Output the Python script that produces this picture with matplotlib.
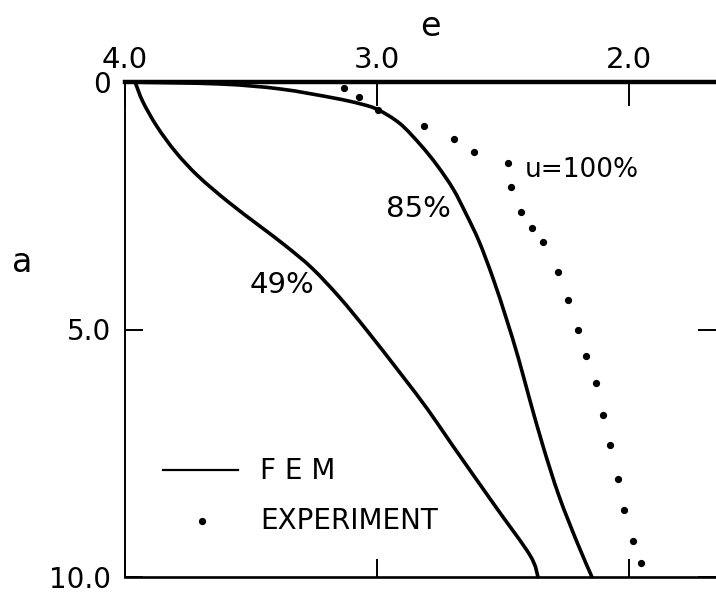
import matplotlib
matplotlib.use("Agg")
import matplotlib.pyplot as plt
from matplotlib.path import Path
from matplotlib.patches import PathPatch

# FEM curve, degree of consolidation 49 %
e_fem49 = [3.960, 3.929, 3.873, 3.798, 3.710, 3.591, 3.468, 3.365, 3.258, 3.147,
           3.040, 2.905, 2.798, 2.706, 2.532, 2.393, 2.361]
a_fem49 = [0.00, 0.40, 0.90, 1.42, 1.90, 2.42, 2.90, 3.30, 3.76, 4.36,
           5.02, 5.90, 6.62, 7.30, 8.56, 9.56, 10.00]

# FEM curve, degree of consolidation 85 %
e_fem85 = [4.000, 3.623, 3.385, 3.175, 3.067, 2.996, 2.909, 2.829, 2.762, 2.698,
           2.647, 2.595, 2.540, 2.488, 2.440, 2.397, 2.341, 2.278, 2.206, 2.147]
a_fem85 = [0.00, 0.04, 0.14, 0.32, 0.44, 0.56, 0.84, 1.26, 1.68, 2.16,
           2.66, 3.22, 3.96, 4.76, 5.56, 6.36, 7.36, 8.36, 9.30, 10.00]

# Experimental points, u = 100 %
e_exp = [3.131, 3.071, 2.996, 2.813, 2.694, 2.615, 2.480, 2.468, 2.429, 2.385,
         2.341, 2.282, 2.242, 2.202, 2.171, 2.131, 2.103, 2.075, 2.044, 2.020,
         1.984, 1.952]
a_exp = [0.12, 0.30, 0.56, 0.88, 1.16, 1.42, 1.64, 2.12, 2.62, 2.94,
         3.24, 3.84, 4.40, 5.00, 5.54, 6.08, 6.72, 7.34, 8.02, 8.64,
         9.28, 9.72]

e_ticks = [4.0, 3.0, 2.0]
e_ticklabels = ["4.0", "3.0", "2.0"]
a_ticks = [0.0, 5.0, 10.0]
a_ticklabels = ["0", "5.0", "10.0"]

FS = 21


def smooth_path(xs, ys):
    """Catmull-Rom style cubic Bezier path passing through every point."""
    pts = list(zip(xs, ys))
    verts = [pts[0]]
    codes = [Path.MOVETO]
    n = len(pts)
    for i in range(n - 1):
        p0 = pts[i - 1] if i > 0 else pts[i]
        p1 = pts[i]
        p2 = pts[i + 1]
        p3 = pts[i + 2] if i + 2 < n else pts[i + 1]
        c1 = (p1[0] + (p2[0] - p0[0]) / 6.0, p1[1] + (p2[1] - p0[1]) / 6.0)
        c2 = (p2[0] - (p3[0] - p1[0]) / 6.0, p2[1] - (p3[1] - p1[1]) / 6.0)
        verts += [c1, c2, p2]
        codes += [Path.CURVE4] * 3
    return Path(verts, codes)


fig = plt.figure(figsize=(7.16, 5.95), dpi=100)
ax = fig.add_axes([125 / 716, 18 / 595, 591 / 716, 495 / 595])

for xs, ys in ((e_fem49, a_fem49), (e_fem85, a_fem85)):
    ax.add_patch(PathPatch(smooth_path(xs, ys), facecolor="none",
                           edgecolor="black", lw=2.6, capstyle="round",
                           joinstyle="round", clip_on=False))
ax.plot(e_exp, a_exp, linestyle="none", marker="o", ms=4.2, color="black")

ax.set_xlim(4.0, 4.0 - 591 / 252)
ax.set_ylim(10.0, 0.0)

# spines
ax.spines["right"].set_visible(False)
ax.spines["top"].set_linewidth(3.2)
ax.spines["left"].set_linewidth(1.4)
ax.spines["bottom"].set_linewidth(1.9)

# bottom ticks (no labels)
ax.set_xticks(e_ticks)
ax.tick_params(axis="x", which="major", direction="in", length=13, width=1.4,
               bottom=True, top=False, labelbottom=False, labeltop=False)

# top axis with labels
top = ax.secondary_xaxis("top")
top.set_xticks(e_ticks, e_ticklabels)
top.tick_params(direction="in", length=17, width=1.4, labelsize=FS, pad=6)
top.spines["top"].set_visible(False)
top.set_xlabel("e", fontsize=FS + 3, labelpad=7, x=(430 - 125) / 591)

# left / right ticks
ax.set_yticks(a_ticks, a_ticklabels)
ax.tick_params(axis="y", which="major", direction="in", length=13, width=1.4,
               left=True, right=True, labelsize=FS - 1, pad=10)
ax.set_ylabel("a", fontsize=FS + 3, rotation=0, va="center", ha="center")
ax.yaxis.set_label_coords((22 - 125) / 591, 1 - (263 - 82) / 495)

# curve annotations
ax.text(2.837, 2.56, "85%", fontsize=FS, ha="center", va="center")
ax.text(3.377, 4.10, "49%", fontsize=FS, ha="center", va="center")
ax.text(2.413, 1.78, "u=100%", fontsize=FS - 2, ha="left", va="center")

# legend
ax.plot([3.849, 3.552], [7.84, 7.84], color="black", lw=1.6)
ax.text(3.465, 7.86, "F E M", fontsize=FS - 1, ha="left", va="center")
ax.plot([3.694], [8.86], marker="o", ms=4.2, color="black")
ax.text(3.465, 8.86, "EXPERIMENT", fontsize=FS - 1, ha="left", va="center")

fig.savefig("out.png", dpi=100, facecolor="white")
